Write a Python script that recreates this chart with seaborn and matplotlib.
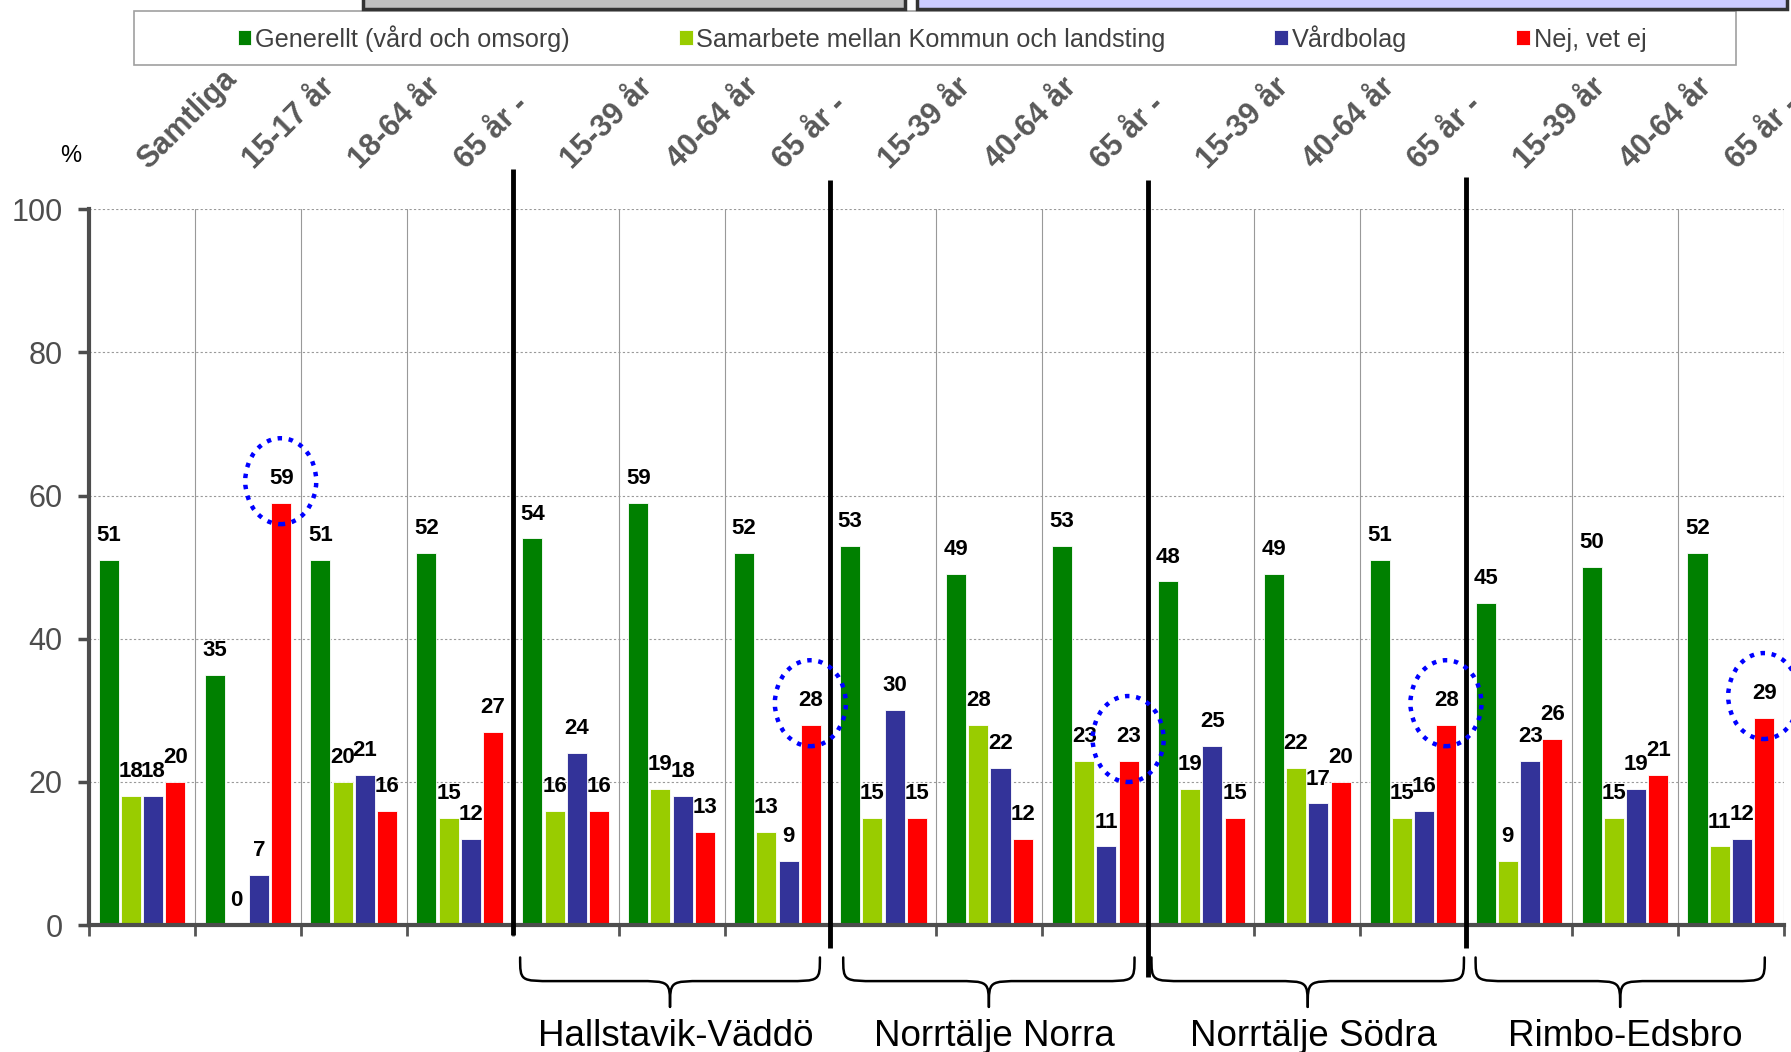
import matplotlib
matplotlib.use("Agg")
import matplotlib.pyplot as plt
import seaborn as sns
import pandas as pd
import numpy as np
from matplotlib.patches import Ellipse, Rectangle, PathPatch
from matplotlib.path import Path

# ---------------- data ----------------
categories = ["Samtliga", "15-17 år", "18-64 år", "65 år -",
              "15-39 år", "40-64 år", "65 år -",
              "15-39 år", "40-64 år", "65 år -",
              "15-39 år", "40-64 år", "65 år -",
              "15-39 år", "40-64 år", "65 år -"]
series_names = ["Generellt (vård och omsorg)", "Samarbete mellan Kommun och landsting",
                "Vårdbolag", "Nej, vet ej"]
generellt = [51, 35, 51, 52, 54, 59, 52, 53, 49, 53, 48, 49, 51, 45, 50, 52]
samarbete = [18, 0, 20, 15, 16, 19, 13, 15, 28, 23, 19, 22, 15, 9, 15, 11]
vardbolag = [18, 7, 21, 12, 24, 18, 9, 30, 22, 11, 25, 17, 16, 23, 19, 12]
nej_vet_ej = [20, 59, 16, 27, 16, 13, 28, 15, 12, 23, 15, 20, 28, 26, 21, 29]
region_names = ["Hallstavik-Väddö", "Norrtälje Norra", "Norrtälje Södra", "Rimbo-Edsbro"]
highlight_idx = [1, 6, 9, 12, 15]
colors = ["#008000", "#99CC00", "#333399", "#FF0000"]

# ---------------- frame ----------------
rows = []
for s_name, vals in zip(series_names, [generellt, samarbete, vardbolag, nej_vet_ej]):
    for i, v in enumerate(vals):
        rows.append({"pos": f"c{i:02d}", "serie": s_name, "val": v})
df = pd.DataFrame(rows)
order = [f"c{i:02d}" for i in range(len(categories))]

sns.set_style("white")
plt.rcParams["font.family"] = ["Liberation Sans", "DejaVu Sans"]

fig = plt.figure(figsize=(17.91, 10.52), dpi=100)
ax = fig.add_axes([0.0497, 0.1205, 0.9463, 0.6808])

sns.barplot(data=df, x="pos", y="val", hue="serie", order=order,
            hue_order=series_names, palette=colors, width=0.84, gap=0.1,
            linewidth=0.6, edgecolor="white", saturation=1, ax=ax,
            errorbar=None)

handles, labels = ax.get_legend_handles_labels()
if ax.get_legend() is not None:
    ax.get_legend().remove()

for cont in ax.containers:
    ax.bar_label(cont, fmt="%d", padding=10, fontsize=16, fontweight="bold",
                 color="black")

n = len(categories)
ax.set_xlim(-0.5, n - 0.5)
ax.set_ylim(0, 100)
ax.set_yticks(range(0, 101, 20))
ax.tick_params(axis="y", labelsize=22, colors="#4d4d4d", length=8, width=2.5,
               direction="out", left=True, pad=11)
ax.set_xticks(np.arange(-0.5, n, 1.0))
ax.set_xticklabels([])
ax.tick_params(axis="x", length=8, width=2, colors="#555555", bottom=True,
               direction="out")
ax.set_xlabel("")
ax.set_ylabel("")

for sp in ["top", "right"]:
    ax.spines[sp].set_visible(False)
for sp in ["left", "bottom"]:
    ax.spines[sp].set_color("#4d4d4d")
    ax.spines[sp].set_linewidth(3)

for y in range(20, 101, 20):
    ax.axhline(y, color="#999999", lw=0.8, ls=(0, (2, 2)), zorder=0)
for xb in np.arange(0.5, n, 1.0):
    ax.axvline(xb, color="#999999", lw=0.8, zorder=0)

# category labels on top
for i, lab in enumerate(categories):
    ax.text(i + 0.06, 105.4, lab, rotation=45, rotation_mode="anchor",
            ha="left", va="baseline", fontsize=22, fontweight="bold",
            color="#595959", clip_on=False)
ax.text(-0.67, 107.4, "%", fontsize=17, ha="center", va="center",
        color="black", clip_on=False)

# thick separators
seps = [(3.5, 105.6, -1.3), (6.5, 104.0, -3.2), (9.5, 104.0, -7.2), (12.5, 104.5, -3.2)]
for xs, yt, yb in seps:
    ax.plot([xs, xs], [yt, yb], color="black", lw=3.5, clip_on=False,
            solid_capstyle="butt", zorder=5)

# highlight ellipses
for i in highlight_idx:
    e = Ellipse((i + 0.31, nej_vet_ej[i] + 3.0), 0.67, 12.0, fill=False,
                edgecolor="#0000FF", lw=3.2, ls=(0, (1, 1.5)), clip_on=False,
                zorder=6)
    ax.add_patch(e)

# braces with region names
def brace(ax, x1, x2, ytop, ymid, ytip, rx):
    xm = (x1 + x2) / 2
    verts1 = [(x1, ytop), (x1, ymid), (x1, ymid), (x1 + rx, ymid),
              (xm - rx, ymid), (xm, ymid), (xm, ymid), (xm, ytip)]
    verts2 = [(xm, ytip), (xm, ymid), (xm, ymid), (xm + rx, ymid),
              (x2 - rx, ymid), (x2, ymid), (x2, ymid), (x2, ytop)]
    codes = [Path.MOVETO, Path.CURVE4, Path.CURVE4, Path.CURVE4,
             Path.LINETO, Path.CURVE4, Path.CURVE4, Path.CURVE4]
    for v in (verts1, verts2):
        ax.add_patch(PathPatch(Path(v, codes), fill=False, lw=1.8,
                               color="black", clip_on=False,
                               capstyle="round"))

brace_spans = [(3.57, 6.40), (6.62, 9.37), (9.53, 12.48), (12.59, 15.32)]
for (x1, x2), name in zip(brace_spans, region_names):
    brace(ax, x1, x2, -4.5, -7.8, -11.4, 0.32)
    ax.text((x1 + x2) / 2 + 0.05, -15.5, name, ha="center", va="center",
            fontsize=26.5, color="black", clip_on=False)

# legend box and legend
fig.patches.append(Rectangle((0.0746, 0.938), 0.8947, 0.0512,
                             transform=fig.transFigure, facecolor="white",
                             edgecolor="#a0a0a0", lw=1.2, zorder=0))
fig.legend(handles, labels, loc="center", bbox_to_anchor=(0.526, 0.9635),
           ncol=4, frameon=False, fontsize=18.2, handlelength=0.55,
           handleheight=0.55, handletextpad=0.15, columnspacing=4.3,
           labelcolor="#404040")

# partially visible boxes at the top edge
fig.patches.append(Rectangle((0.2027, 0.9915), 0.3026, 0.03,
                             transform=fig.transFigure, facecolor="#C0C0C0",
                             edgecolor="#333333", lw=2.5))
fig.patches.append(Rectangle((0.512, 0.9915), 0.486, 0.03,
                             transform=fig.transFigure, facecolor="#CCCCFF",
                             edgecolor="#333333", lw=2.5))

fig.savefig("out.png", dpi=100)
